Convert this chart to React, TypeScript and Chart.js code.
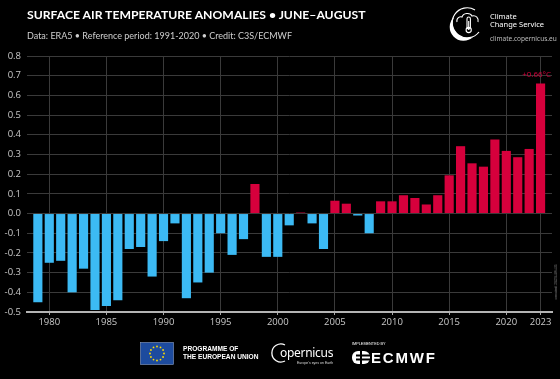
import React, { useEffect, useRef } from "react";
import { Chart, registerables } from "chart.js";

Chart.register(...registerables);

const years = [
  1979, 1980, 1981, 1982, 1983, 1984, 1985, 1986, 1987, 1988, 1989, 1990,
  1991, 1992, 1993, 1994, 1995, 1996, 1997, 1998, 1999, 2000, 2001, 2002,
  2003, 2004, 2005, 2006, 2007, 2008, 2009, 2010, 2011, 2012, 2013, 2014,
  2015, 2016, 2017, 2018, 2019, 2020, 2021, 2022, 2023,
];

const anomalies = [
  -0.45, -0.25, -0.24, -0.4, -0.28, -0.49, -0.47, -0.44, -0.18, -0.17, -0.32, -0.14,
  -0.05, -0.43, -0.35, -0.3, -0.1, -0.21, -0.13, 0.15, -0.22, -0.22, -0.06, 0.005,
  -0.05, -0.18, 0.065, 0.05, -0.01, -0.1, 0.062, 0.062, 0.093, 0.079, 0.046, 0.093,
  0.194, 0.342, 0.255, 0.238, 0.376, 0.318, 0.286, 0.328, 0.66,
];

const xTickYears = [1980, 1985, 1990, 1995, 2000, 2005, 2010, 2015, 2020, 2023];
const yTickValues = [-0.5, -0.4, -0.3, -0.2, -0.1, 0, 0.1, 0.2, 0.3, 0.4, 0.5, 0.6, 0.7, 0.8];
const lastLabel = "+0.66°C";

const BLUE = "#3cbaf4";
const RED = "#d6003c";
const TICK_FONT = { family: "'Open Sans', sans-serif", size: 9.5 };

const lastValuePlugin = {
  id: "lastValue",
  afterDatasetsDraw(chart: any) {
    const meta = chart.getDatasetMeta(0);
    const el = meta.data[meta.data.length - 1];
    if (!el) return;
    const ctx = chart.ctx;
    ctx.save();
    ctx.font = "8px 'Open Sans', sans-serif";
    ctx.fillStyle = RED;
    ctx.textAlign = "center";
    ctx.textBaseline = "middle";
    ctx.fillText(lastLabel, el.x - 4, el.y - 9);
    ctx.restore();
  },
};

function ClimateLogo() {
  return (
    <svg style={{ position: "absolute", left: 448, top: 5 }} width="36" height="36" viewBox="0 0 36 36">
      <path d="M27 5 A15 15 0 1 0 31 27" fill="none" stroke="#fff" strokeWidth="1.2" />
      <path d="M6 12 A15 15 0 0 0 25 32 A13 13 0 0 1 6 12 Z" fill="#fff" />
      <path d="M9 17 C8 13 12 11 14 12 C15 8 22 7 24 11 C28 10 31 13 30 17" fill="none" stroke="#fff" strokeWidth="1.1" />
      <rect x="19" y="12" width="3.4" height="12" rx="1.7" fill="none" stroke="#fff" strokeWidth="1.1" />
      <circle cx="20.7" cy="25" r="2.6" fill="none" stroke="#fff" strokeWidth="1.1" />
      <line x1="20.7" y1="16" x2="20.7" y2="25" stroke="#fff" strokeWidth="1.1" />
    </svg>
  );
}

function EuFlag() {
  const stars = [];
  for (let i = 0; i < 12; i++) {
    const a = (i / 12) * Math.PI * 2;
    stars.push(<circle key={i} cx={17 + 7 * Math.cos(a)} cy={11.5 + 7 * Math.sin(a)} r="0.9" fill="#ffdd00" />);
  }
  return (
    <svg style={{ position: "absolute", left: 140, top: 342 }} width="34" height="23" viewBox="0 0 34 23">
      <rect x="0.5" y="0.5" width="33" height="22" fill="#1d4b9e" stroke="#8aa0c8" strokeWidth="0.6" />
      {stars}
    </svg>
  );
}

function CopernicusLogo() {
  return (
    <div style={{ position: "absolute", left: 271, top: 342, width: 64, height: 24 }}>
      <svg style={{ position: "absolute", left: 0, top: 0 }} width="20" height="22" viewBox="0 0 20 22">
        <path d="M14 3 A9 9 0 1 0 14 19" fill="none" stroke="#fff" strokeWidth="1.3" />
      </svg>
      <div style={{ position: "absolute", left: 9, top: 5, color: "#fff", fontFamily: "'Noto Sans', sans-serif", fontSize: 12, lineHeight: "12px", letterSpacing: -0.3 }}>
        opernicus
      </div>
      <div style={{ position: "absolute", left: 26, top: 18.5, color: "#ddd", fontFamily: "'Liberation Sans', sans-serif", fontSize: 3.5, lineHeight: "4px", whiteSpace: "nowrap" }}>
        Europe's eyes on Earth
      </div>
    </div>
  );
}

function EcmwfLogo() {
  return (
    <div style={{ position: "absolute", left: 351, top: 341, width: 95, height: 26 }}>
      <div style={{ position: "absolute", left: 1, top: 1, color: "#fff", fontFamily: "'Liberation Sans', sans-serif", fontSize: 3.8, lineHeight: "4px", whiteSpace: "nowrap" }}>
        IMPLEMENTED BY
      </div>
      <svg style={{ position: "absolute", left: 1, top: 10 }} width="18" height="13" viewBox="0 0 18 13">
        <rect x="0" y="0" width="18" height="13" rx="6" fill="#fff" />
        <rect x="4" y="3.5" width="14" height="2" fill="#000" />
        <rect x="4" y="7.5" width="14" height="2" fill="#000" />
        <rect x="8" y="0" width="2" height="13" fill="#000" />
      </svg>
      <div style={{ position: "absolute", left: 20, top: 9, color: "#fff", fontFamily: "'Liberation Sans', sans-serif", fontWeight: 700, fontSize: 15, lineHeight: "15px", letterSpacing: 1.8, whiteSpace: "nowrap" }}>
        ECMWF
      </div>
    </div>
  );
}

export default function App() {
  const canvasRef = useRef<HTMLCanvasElement | null>(null);

  useEffect(() => {
    document.body.style.margin = "0";
    document.body.style.background = "#000";
    const canvas = canvasRef.current;
    if (!canvas) return;
    const chart = new Chart(canvas, {
      type: "bar",
      data: {
        datasets: [
          {
            data: years.map((yr, i) => ({ x: yr, y: anomalies[i] })),
            backgroundColor: anomalies.map((v) => (v >= 0 ? RED : BLUE)),
            borderWidth: 0,
            barPercentage: 0.8,
            categoryPercentage: 1,
          },
        ],
      },
      options: {
        animation: false,
        responsive: false,
        maintainAspectRatio: false,
        events: [],
        layout: { padding: { top: 56, right: 8, bottom: 47, left: 0 } },
        plugins: {
          legend: { display: false },
          tooltip: { enabled: false },
          title: { display: false },
        },
        scales: {
          x: {
            type: "linear",
            offset: false,
            min: 1978.05,
            max: 2024,
            afterBuildTicks: (scale: any) => {
              scale.ticks = xTickYears.map((v) => ({ value: v }));
            },
            afterFit: (scale: any) => {
              scale.height = 20;
            },
            ticks: {
              color: "#c8c8c8",
              font: TICK_FONT,
              padding: 2,
              autoSkip: false,
              maxRotation: 0,
              callback: (v: any) => String(v),
            },
            grid: {
              offset: false,
              color: "#3a3a3a",
              lineWidth: 1,
              drawTicks: true,
              tickLength: 3,
              tickColor: "#a8a8a8",
            },
            border: { display: true, color: "#b4b4b4", width: 2 },
          },
          y: {
            type: "linear",
            min: -0.5,
            max: 0.8,
            afterBuildTicks: (scale: any) => {
              scale.ticks = yTickValues.map((v) => ({ value: v }));
            },
            afterFit: (scale: any) => {
              scale.width = 27;
            },
            ticks: {
              color: "#c8c8c8",
              font: TICK_FONT,
              padding: 6,
              callback: (v: any) => (Math.abs(Number(v)) < 1e-9 ? "0.0" : Number(v).toFixed(1)),
            },
            grid: { color: "#3a3a3a", lineWidth: 1, drawTicks: false },
            border: { display: false },
          },
        },
      },
      plugins: [lastValuePlugin],
    } as any);
    return () => chart.destroy();
  }, []);

  return (
    <div style={{ position: "absolute", left: 0, top: 0, width: 560, height: 379, background: "#000", overflow: "hidden" }}>
      <canvas ref={canvasRef} width={560} height={379} style={{ position: "absolute", left: 0, top: 0, width: 560, height: 379 }} />
      <div style={{ position: "absolute", left: 27, top: 8, color: "#fff", fontFamily: "Lato, sans-serif", fontWeight: 700, fontSize: 12.2, lineHeight: "14px", whiteSpace: "nowrap" }}>
        SURFACE AIR TEMPERATURE ANOMALIES • JUNE–AUGUST
      </div>
      <div style={{ position: "absolute", left: 27, top: 30, color: "#cfcfcf", fontFamily: "Lato, sans-serif", fontSize: 9, lineHeight: "11px", whiteSpace: "nowrap" }}>
        Data: ERA5 • Reference period: 1991-2020 • Credit: C3S/ECMWF
      </div>
      <ClimateLogo />
      <div style={{ position: "absolute", left: 490, top: 12, color: "#fff", fontFamily: "'Noto Sans', sans-serif", fontSize: 7.5, lineHeight: "8px", whiteSpace: "nowrap" }}>
        Climate
        <br />
        Change Service
      </div>
      <div style={{ position: "absolute", left: 490, top: 34.5, color: "#bdbdbd", fontFamily: "'Noto Sans', sans-serif", fontSize: 6.5, lineHeight: "8px", whiteSpace: "nowrap" }}>
        climate.copernicus.eu
      </div>
      <div style={{ position: "absolute", left: 556, top: 282, color: "#888", fontFamily: "'Liberation Sans', sans-serif", fontSize: 4, lineHeight: "4px", whiteSpace: "nowrap", transform: "translate(-50%, -50%) rotate(-90deg)" }}>
        created 2023-09-05
      </div>
      <EuFlag />
      <div style={{ position: "absolute", left: 183, top: 345, color: "#fff", fontFamily: "'Liberation Sans', sans-serif", fontWeight: 700, fontSize: 6.6, lineHeight: "7.6px", whiteSpace: "nowrap" }}>
        PROGRAMME OF
        <br />
        THE EUROPEAN UNION
      </div>
      <CopernicusLogo />
      <EcmwfLogo />
    </div>
  );
}
